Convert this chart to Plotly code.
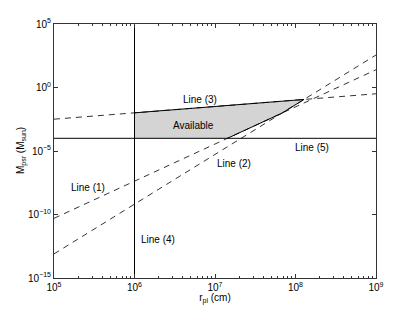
import numpy as np
import plotly.graph_objects as go

# ---- data ----
r_ends = [1e5, 1e9]                 # x extent of the sloped lines (cm)
line1_M = [5.0e-11, 25.0]           # Line (1) values at r_ends
line2_M = [7.9e-14, 363.0]          # Line (2) values at r_ends
line3_M = [3.2e-3, 0.32]            # Line (3) values at r_ends
line4_r = 1e6                       # Line (4) vertical
line5_M = 1e-4                      # Line (5) horizontal

x_tickvals = [1e5, 1e6, 1e7, 1e8, 1e9]
x_ticktext = ["10<sup>5</sup>", "10<sup>6</sup>", "10<sup>7</sup>", "10<sup>8</sup>", "10<sup>9</sup>"]
y_tickvals = [1e-15, 1e-10, 1e-5, 1e0, 1e5]
y_ticktext = ["10<sup>\u221215</sup>", "10<sup>\u221210</sup>", "10<sup>\u22125</sup>", "10<sup>0</sup>", "10<sup>5</sup>"]

labels = ["Line (1)", "Line (2)", "Line (3)", "Line (4)", "Line (5)", "Available"]

# ---- helpers in log space ----
lx = np.log10(r_ends)


def coef(vals):
    ly = np.log10(vals)
    b = (ly[1] - ly[0]) / (lx[1] - lx[0])
    return ly[0] - b * lx[0], b


def inter(c1, c2):
    a1, b1 = c1
    a2, b2 = c2
    x = (a2 - a1) / (b1 - b2)
    return x, a1 + b1 * x


c1, c2, c3 = coef(line1_M), coef(line2_M), coef(line3_M)
c5 = (np.log10(line5_M), 0.0)
x4 = np.log10(line4_r)

p_top = inter(c3, c2)
p_kink = inter(c1, c2)
p_bot = inter(c1, c5)
p_lt = (x4, c3[0] + c3[1] * x4)
p_lb = (x4, c5[0])

poly = [p_lb, p_lt, p_top, p_kink, p_bot, p_lb]
px = [10 ** p[0] for p in poly]
py = [10 ** p[1] for p in poly]

FONT = "Liberation Sans"

fig = go.Figure()
fig.add_trace(go.Scatter(x=px, y=py, fill="toself", fillcolor="#d4d4d4",
                         line=dict(width=0), mode="lines", hoverinfo="skip"))

dash = "6px,5px"
for vals in (line1_M, line2_M, line3_M):
    fig.add_trace(go.Scatter(x=r_ends, y=vals, mode="lines",
                             line=dict(color="black", width=0.8, dash=dash)))

# solid boundaries of available region
segs = [(p_lt, p_top), (p_top, p_kink), (p_kink, p_bot)]
for a, b in segs:
    fig.add_trace(go.Scatter(x=[10 ** a[0], 10 ** b[0]], y=[10 ** a[1], 10 ** b[1]],
                             mode="lines", line=dict(color="black", width=1)))

fig.add_trace(go.Scatter(x=r_ends, y=[line5_M, line5_M], mode="lines",
                         line=dict(color="black", width=1)))
fig.add_trace(go.Scatter(x=[line4_r, line4_r], y=[1e-15, 1e5], mode="lines",
                         line=dict(color="black", width=1)))

ann_pos = [(5.42, -7.9), (7.24, -6.0), (6.81, -0.98), (6.29, -12.0), (8.21, -4.69), (6.73, -3.03)]
for t, (ax_, ay_) in zip(labels, ann_pos):
    fig.add_annotation(x=ax_, y=ay_, text=t, showarrow=False,
                       font=dict(size=10, color="black", family=FONT))

# y-axis title placed precisely
fig.add_annotation(xref="paper", yref="paper", x=0, y=0.5, xshift=-33,
                   text="M<sub>psr</sub> (M<sub>sun</sub>)", textangle=-90,
                   showarrow=False, xanchor="center", yanchor="middle",
                   font=dict(size=10, color="black", family=FONT))

axis_common = dict(showgrid=False, zeroline=False, showline=True, linecolor="#333",
                   linewidth=1, mirror="allticks", ticks="inside", ticklen=4,
                   automargin=False,
                   tickcolor="#333", tickfont=dict(size=10, color="black", family=FONT))

fig.update_xaxes(type="log", range=[5, 9], tickmode="array", tickvals=x_tickvals,
                 ticktext=x_ticktext,
                 minor=dict(ticks="inside", ticklen=2, dtick="D1", tickcolor="#333"),
                 title=dict(text="r<sub>pl</sub> (cm)", standoff=1,
                            font=dict(size=10, color="black", family=FONT)),
                 **axis_common)
fig.update_yaxes(type="log", range=[-15, 5], tickmode="array", tickvals=y_tickvals,
                 ticktext=y_ticktext, **axis_common)

fig.update_layout(width=399, height=297, margin=dict(l=46, r=31, t=16, b=27),
                  showlegend=False, plot_bgcolor="white", paper_bgcolor="white",
                  font=dict(family=FONT, size=10, color="black"))

fig.write_html("out.html")
